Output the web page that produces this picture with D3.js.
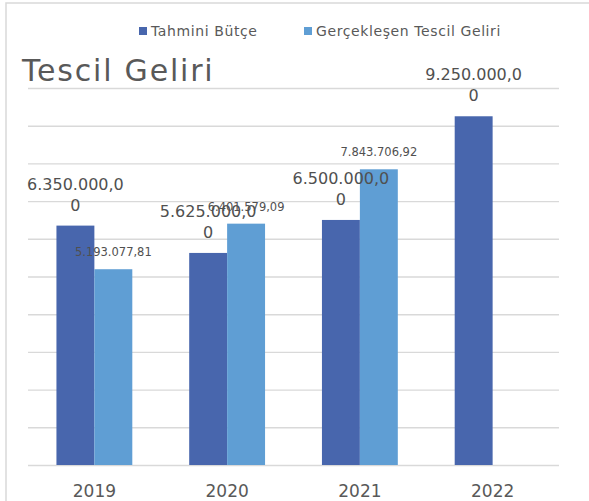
<!DOCTYPE html>
<html>
<head>
<meta charset="utf-8">
<script src="https://cdn.jsdelivr.net/npm/d3@7"></script>
<style>
  body { margin: 0; background: #fff; }
  svg { display: block; font-family: "DejaVu Sans", sans-serif; }
</style>
</head>
<body>
<svg id="drawing_region"></svg>
<script>
const categories = ["2019", "2020", "2021", "2022"];
const seriesNames = ["Tahmini Bütçe", "Gerçekleşen Tescil Geliri"];
const tahmini = [6350000, 5625000, 6500000, 9250000];
const gerceklesen = [5193077.81, 6401579.09, 7843706.92, null];
const yTicks = [0, 1000000, 2000000, 3000000, 4000000, 5000000, 6000000, 7000000, 8000000, 9000000, 10000000];

const colors = ["#4866ad", "#5f9ed4"];

const config = {
  width: 589,
  height: 501,
  margin: {top: 88, right: 30, bottom: 36, left: 28}
};

const trFormat = d3.formatLocale({decimal: ",", thousands: ".", grouping: [3], currency: ["", ""]}).format(",.2f");

const svg = d3.select('#drawing_region')
  .attr('width', config.width)
  .attr('height', config.height);

// chart border (only top and left are inside the window)
svg.append('path')
  .attr('d', `M6,501 L6,3 L589,3`)
  .attr('fill', 'none')
  .attr('stroke', '#d9d9d9')
  .attr('stroke-width', 1.5);

const inner_width = config.width - config.margin.left - config.margin.right;
const inner_height = config.height - config.margin.top - config.margin.bottom;

const chart = svg.append('g')
  .attr('transform', `translate(${config.margin.left}, ${config.margin.top})`);

const xscale = d3.scaleBand()
  .domain(categories)
  .range([0, inner_width]);

const xsub = d3.scaleBand()
  .domain(seriesNames)
  .range([0, xscale.bandwidth()])
  .paddingOuter(0.75);

const yscale = d3.scaleLinear()
  .domain([0, 10000000])
  .range([inner_height, 0]);

// gridlines
const grid = chart.append('g')
  .call(d3.axisLeft(yscale).tickValues(yTicks).tickSize(-inner_width).tickFormat(''));
grid.select('.domain').remove();
grid.selectAll('.tick line')
  .attr('stroke', '#d9d9d9')
  .attr('stroke-width', 1.4);

// x axis labels
const xaxis = chart.append('g')
  .attr('transform', `translate(0, ${inner_height})`)
  .call(d3.axisBottom(xscale).tickSize(0).tickPadding(20));
xaxis.select('.domain').remove();
xaxis.selectAll('text')
  .attr('fill', '#595959')
  .attr('font-size', 17)
  .attr('font-family', '"DejaVu Sans", sans-serif');

const rows = categories.map((c, i) => ({cat: c, vals: [tahmini[i], gerceklesen[i]]}));

const groups = chart.selectAll('.cat')
  .data(rows)
  .join('g')
  .attr('transform', d => `translate(${xscale(d.cat)}, 0)`);

groups.selectAll('rect')
  .data(d => d.vals.map((v, j) => ({name: seriesNames[j], v: v, j: j})).filter(e => e.v != null))
  .join('rect')
  .attr('x', e => xsub(e.name))
  .attr('width', xsub.bandwidth())
  .attr('y', e => yscale(e.v))
  .attr('height', e => inner_height - yscale(e.v))
  .attr('fill', e => colors[e.j]);

// labels for Tahmini Bütçe (wrapped in two lines) and Gerçekleşen
groups.each(function(d) {
  const g = d3.select(this);
  const v = d.vals[0];
  const s = trFormat(v);
  const t = g.append('text')
    .attr('x', xsub(seriesNames[0]) + xsub.bandwidth() / 2)
    .attr('y', yscale(v) - 36)
    .attr('text-anchor', 'middle')
    .attr('font-size', 16)
    .attr('fill', '#505050');
  t.append('tspan').text(s.slice(0, s.length - 1));
  t.append('tspan')
    .attr('x', xsub(seriesNames[0]) + xsub.bandwidth() / 2)
    .attr('dy', 21)
    .text(s.slice(s.length - 1));

  const v2 = d.vals[1];
  if (v2 != null) {
    g.append('text')
      .attr('x', xsub(seriesNames[1]) + xsub.bandwidth() / 2)
      .attr('y', yscale(v2) - 13)
      .attr('text-anchor', 'middle')
      .attr('font-size', 11.5)
      .attr('fill', '#505050')
      .text(trFormat(v2));
  }
});

// title
svg.append('text')
  .attr('x', 22)
  .attr('y', 81)
  .attr('font-size', 30)
  .attr('fill', '#595959')
  .attr('letter-spacing', 1.8)
  .text('Tescil Geliri');

// legend
const legendX = [139, 304];
const legend = svg.selectAll('.legend')
  .data(seriesNames)
  .join('g')
  .attr('transform', (d, i) => `translate(${legendX[i]}, 27)`);
legend.append('rect')
  .attr('width', 8)
  .attr('height', 8)
  .attr('fill', (d, i) => colors[i]);
legend.append('text')
  .attr('x', 12)
  .attr('y', 9)
  .attr('font-size', 14)
  .attr('fill', '#595959')
  .attr('letter-spacing', 0.6)
  .text(d => d);
</script>
</body>
</html>
